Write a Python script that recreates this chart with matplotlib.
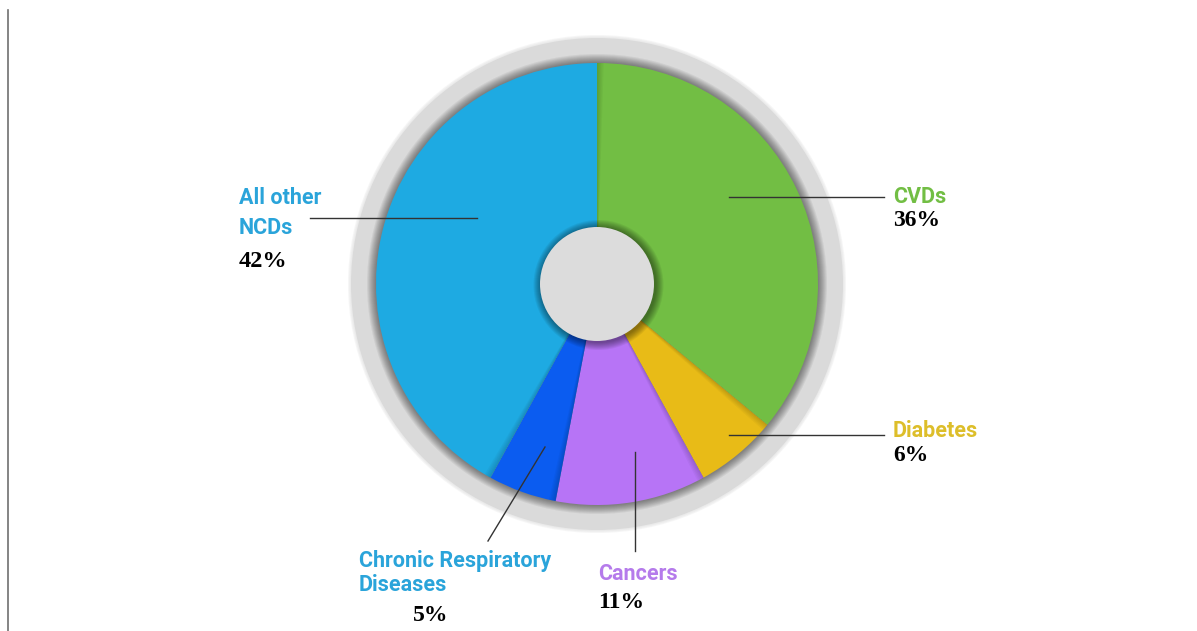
import matplotlib
matplotlib.use("Agg")
import matplotlib.pyplot as plt
from matplotlib.patches import Circle, Wedge

# ---- data ----
categories = ["CVDs", "Diabetes", "Cancers", "Chronic Respiratory\nDiseases", "All other\nNCDs"]
values = [36, 6, 11, 5, 42]
pct_labels = ["36%", "6%", "11%", "5%", "42%"]
slice_colors = ["#72BE44", "#E8BB17", "#B774F6", "#0B5CF0", "#1EAAE2"]
label_colors = ["#72BE44", "#DDBE2A", "#B57BEB", "#2AA4DA", "#2AA4DA"]

W, H = 1197, 631
fig = plt.figure(figsize=(W / 100, H / 100), dpi=100)
ax = fig.add_axes([0, 0, 1, 1])

def Y(y):
    return H - y

cx, cy = 597, Y(284)
R = 221

# outer gray ring with soft edge
for k in range(3, 0, -1):
    ax.add_patch(Circle((cx, cy), 246 + k, color="#dcdcdc", alpha=0.25, lw=0, zorder=1))
ax.add_patch(Circle((cx, cy), 246, color="#dadada", lw=0, zorder=1))
# shadow around pie on the ring
for k in range(9, 0, -1):
    ax.add_patch(Circle((cx, cy), R + k, color="black", alpha=0.055, lw=0, zorder=2))

wedges, _ = ax.pie(values, colors=slice_colors, startangle=90, counterclock=False,
                   radius=R, center=(cx, cy), frame=True,
                   wedgeprops=dict(linewidth=0))
for w in wedges:
    w.set_zorder(3)
ax.set_xlim(0, W)
ax.set_ylim(0, H)
ax.axis("off")

# subtle shadows at slice boundaries
ang = 90.0
for v in values:
    ang_end = ang - v * 3.6
    for k in range(5, 0, -1):
        ax.add_patch(Wedge((cx, cy), R, ang_end - k * 0.35, ang_end, color="black",
                           alpha=0.03, lw=0, zorder=4))
    ang = ang_end

# center circle with shadow
for k in range(8, 0, -1):
    ax.add_patch(Circle((cx + 1.5, cy - 1), 57 + k, color="black", alpha=0.06, lw=0, zorder=5))
ax.add_patch(Circle((cx, cy), 57, color="#dcdcdc", lw=0, zorder=6))

# left border line
ax.plot([7.5, 7.5], [Y(10), Y(631)], color="#707070", lw=1.2, zorder=1)

lab_font = dict(family="Roboto", fontweight="bold", fontsize=15.5)
pct_font = dict(family="Liberation Serif", fontweight="bold", fontsize=17)
line_kw = dict(color="#333333", lw=1.0, zorder=7)

# CVDs
ax.plot([729, 884], [Y(197), Y(197)], **line_kw)
ax.text(893, Y(203), categories[0], color=label_colors[0], va="baseline", ha="left", **lab_font)
ax.text(893, Y(226), pct_labels[0], color="black", va="baseline", ha="left", **pct_font)

# Diabetes
ax.plot([729, 884], [Y(435), Y(435)], **line_kw)
ax.text(893, Y(437), categories[1], color=label_colors[1], va="baseline", ha="left", **lab_font)
ax.text(893, Y(461), pct_labels[1], color="black", va="baseline", ha="left", **pct_font)

# Cancers
ax.plot([635, 635], [Y(452), Y(551)], **line_kw)
ax.text(598, Y(580), categories[2], color=label_colors[2], va="baseline", ha="left", **lab_font)
ax.text(598, Y(608.5), pct_labels[2], color="black", va="baseline", ha="left", **pct_font)

# Chronic Respiratory Diseases
ax.plot([545, 488], [Y(447), Y(541)], **line_kw)
crd1, crd2 = categories[3].split("\n")
ax.text(359, Y(567), crd1, color=label_colors[3], va="baseline", ha="left", **lab_font)
ax.text(359, Y(591), crd2, color=label_colors[3], va="baseline", ha="left", **lab_font)
ax.text(413, Y(621), pct_labels[3], color="black", va="baseline", ha="left", **pct_font)

# All other NCDs
ax.plot([310, 477], [Y(218), Y(218)], **line_kw)
o1, o2 = categories[4].split("\n")
ax.text(239, Y(204), o1, color=label_colors[4], va="baseline", ha="left", **lab_font)
ax.text(239, Y(234), o2, color=label_colors[4], va="baseline", ha="left", **lab_font)
ax.text(239, Y(267), pct_labels[4], color="black", va="baseline", ha="left",
        family="Liberation Serif", fontweight="bold", fontsize=17.5)

fig.savefig("out.png", dpi=100, facecolor="white")
